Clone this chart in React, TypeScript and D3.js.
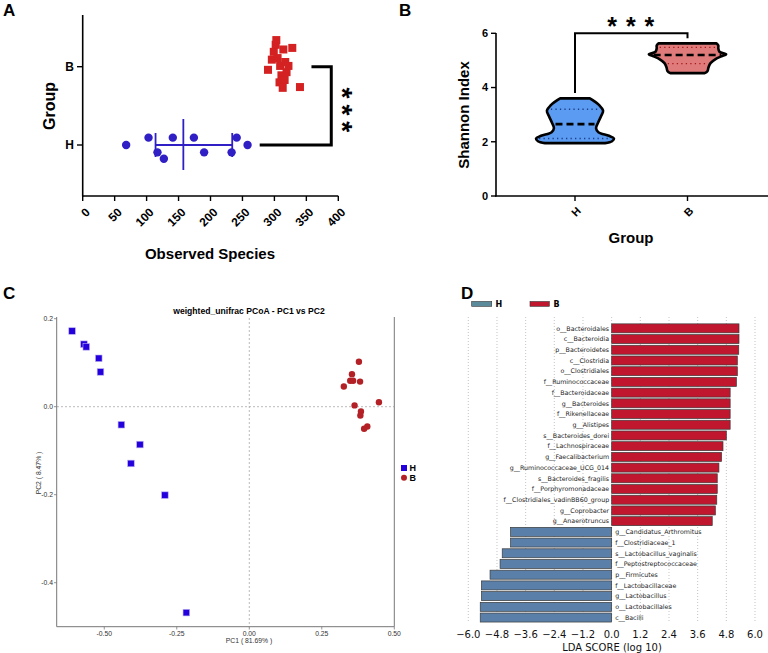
import React from 'react';
import * as d3 from 'd3';

// ---------- Panel A: Observed species ----------
const obsGroups = ['H', 'B'];
const obsH = [68, 103, 117, 127, 141, 174, 190, 233, 241, 258];
const obsHJitter = [0, 0.094, -0.094, -0.175, 0.094, 0.094, -0.094, -0.094, 0.094, 0];
const obsB = [328, 340, 290, 296, 299, 302, 305, 309, 311, 308, 314, 317, 319, 316, 313, 322, 303];
const obsBJitter = [0.24, -0.26, -0.04, 0.09, 0.19, 0.28, 0.11, 0.01, -0.11, -0.2, 0.22, 0.06, -0.07, -0.17, -0.27, 0.01, 0.34];
const obsTicks = [0, 50, 100, 150, 200, 250, 300, 350, 400];
const obsHMean = 157.5;
const obsHSdLow = 114;
const obsHSdHigh = 234;

// ---------- Panel B: Shannon ----------
const shannonGroups = ['H', 'B'];
const violinH: [number, number][] = [
  [1.95, 0.77], [2.02, 0.95], [2.12, 1.0], [2.22, 0.87], [2.35, 0.6], [2.5, 0.54],
  [2.7, 0.59], [2.95, 0.67], [3.15, 0.72], [3.35, 0.62], [3.5, 0.49], [3.6, 0.38],
];
const violinB: [number, number][] = [
  [4.53, 0.44], [4.6, 0.51], [4.75, 0.54], [4.9, 0.59], [5.05, 0.72], [5.15, 0.87],
  [5.23, 0.99], [5.32, 0.82], [5.45, 0.79], [5.55, 0.79], [5.63, 0.74],
];
const shannonMedian = [2.65, 5.2];
const shannonQ1 = [2.12, 4.88];
const shannonQ3 = [3.2, 5.48];
const shannonTicks = [0, 2, 4, 6];

// ---------- Panel C: PCoA ----------
const pcoaH1 = [-0.611, -0.57, -0.562, -0.519, -0.513, -0.441, -0.377, -0.408, -0.291, -0.217];
const pcoaH2 = [0.172, 0.142, 0.136, 0.11, 0.079, -0.041, -0.086, -0.129, -0.201, -0.468];
const pcoaB1 = [0.378, 0.354, 0.348, 0.358, 0.382, 0.326, 0.447, 0.363, 0.385, 0.383, 0.407, 0.396];
const pcoaB2 = [0.102, 0.074, 0.059, 0.059, 0.057, 0.046, 0.01, 0.003, -0.011, -0.02, -0.045, -0.05];
const pcoaXTicks = [-0.5, -0.25, 0, 0.25, 0.5];
const pcoaYTicks = [0.2, 0, -0.2, -0.4];

// ---------- Panel D: LEfSe ----------
const ldaTaxa = [
  'o__Bacteroidales', 'c__Bacteroidia', 'p__Bacteroidetes', 'c__Clostridia', 'o__Clostridiales',
  'f__Ruminococcaceae', 'f__Bacteroidaceae', 'g__Bacteroides', 'f__Rikenellaceae', 'g__Alistipes',
  's__Bacteroides_dorei', 'f__Lachnospiraceae', 'g__Faecalibacterium', 'g__Ruminococcaceae_UCG_014',
  's__Bacteroides_fragilis', 'f__Porphyromonadaceae', 'f__Clostridiales_vadinBB60_group',
  'g__Coprobacter', 'g__Anaerotruncus', 'g__Candidatus_Arthromitus', 'f__Clostridiaceae_1',
  's__Lactobacillus_vaginalis', 'f__Peptostreptococcaceae', 'p__Firmicutes', 'f__Lactobacillaceae',
  'g__Lactobacillus', 'o__Lactobacillales', 'c__Bacilli',
];
const ldaScores = [
  5.33, 5.33, 5.32, 5.26, 5.26, 5.22, 4.96, 4.96, 4.96, 4.96, 4.8, 4.66, 4.6, 4.49,
  4.42, 4.42, 4.4, 4.34, 4.21, -4.23, -4.23, -4.58, -4.67, -5.09, -5.45, -5.45, -5.5, -5.5,
];
const ldaTicks = [-6, -4.8, -3.6, -2.4, -1.2, 0, 1.2, 2.4, 3.6, 4.8, 6];

const ARIAL = '"Liberation Sans", Arial, sans-serif';
const DEJAVU = '"DejaVu Sans", sans-serif';

function PanelA() {
  const x = d3.scaleLinear().domain([0, 400]).range([82.7, 338.3]);
  const y = d3.scalePoint<string>().domain(obsGroups).range([145, 66.7]);
  const step = (y('H') as number) - (y('B') as number);
  const yH = y('H') as number;
  const yB = y('B') as number;
  const blue = '#2f1fc4';
  const red = '#d42121';
  return (
    <g fontFamily={ARIAL} fontWeight="bold">
      <text x={3} y={16} fontSize={17}>A</text>
      <line x1={82.7} x2={82.7} y1={15} y2={196.5} stroke="#000" strokeWidth={1.6} />
      <line x1={82} x2={338.3} y1={196} y2={196} stroke="#000" strokeWidth={1.6} />
      {obsTicks.map((t) => (
        <g key={t}>
          <line x1={x(t)} x2={x(t)} y1={196} y2={201} stroke="#000" strokeWidth={1.4} />
          <text transform={`translate(${x(t) + 5},${210}) rotate(-45)`} textAnchor="end" fontSize={12} dy="0.35em">{t}</text>
        </g>
      ))}
      {obsGroups.map((g) => (
        <g key={g}>
          <line x1={77} x2={82.7} y1={y(g)} y2={y(g)} stroke="#000" strokeWidth={1.4} />
          <text x={74} y={y(g)} dy="0.36em" textAnchor="end" fontSize={12}>{g}</text>
        </g>
      ))}
      <text transform="translate(55,106) rotate(-90)" textAnchor="middle" fontSize={16}>Group</text>
      <text x={210} y={259} textAnchor="middle" fontSize={15}>Observed Species</text>
      {/* H mean & SD */}
      <line x1={x(obsHSdLow)} x2={x(obsHSdHigh)} y1={yH} y2={yH} stroke={blue} strokeWidth={1.8} />
      <line x1={x(obsHSdLow)} x2={x(obsHSdLow)} y1={yH - 12} y2={yH + 12} stroke={blue} strokeWidth={1.8} />
      <line x1={x(obsHSdHigh)} x2={x(obsHSdHigh)} y1={yH - 12} y2={yH + 12} stroke={blue} strokeWidth={1.8} />
      <line x1={x(obsHMean)} x2={x(obsHMean)} y1={yH - 26} y2={yH + 25} stroke={blue} strokeWidth={1.8} />
      {obsH.map((v, i) => (
        <circle key={i} cx={x(v)} cy={yH - obsHJitter[i] * step} r={4.2} fill={blue} />
      ))}
      {obsB.map((v, i) => (
        <rect key={i} x={x(v) - 4} y={yB - obsBJitter[i] * step - 4} width={8} height={8} fill={red} />
      ))}
      {/* significance bracket */}
      <path d={`M${x(277)},${yH} H${x(389)} V${yB} H${x(358)}`} fill="none" stroke="#000" strokeWidth={3} />
      <text transform={`translate(${x(392)},${(yH + yB) / 2 + 7}) rotate(90)`} textAnchor="middle" fontSize={28} letterSpacing={6}>***</text>
    </g>
  );
}

function PanelB() {
  const y = d3.scaleLinear().domain([0, 6]).range([196, 33.3]);
  const x = d3.scalePoint<string>().domain(shannonGroups).range([575, 687.5]);
  const w = d3.scaleLinear().domain([0, 1]).range([0, 39]);
  const profiles = [violinH, violinB];
  const fills = ['#5b9cf2', '#df7b7b'];
  const dotCols = ['#1d3f8a', '#a51c1c'];
  return (
    <g fontFamily={ARIAL} fontWeight="bold">
      <text x={399} y={16} fontSize={17}>B</text>
      <line x1={496} x2={496} y1={33} y2={196.5} stroke="#000" strokeWidth={1.6} />
      <line x1={495} x2={768} y1={196} y2={196} stroke="#000" strokeWidth={1.6} />
      {shannonTicks.map((t) => (
        <g key={t}>
          <line x1={491} x2={496} y1={y(t)} y2={y(t)} stroke="#000" strokeWidth={1.4} />
          <text x={488} y={y(t)} dy="0.36em" textAnchor="end" fontSize={11}>{t}</text>
        </g>
      ))}
      {shannonGroups.map((g) => (
        <g key={g}>
          <line x1={x(g)} x2={x(g)} y1={196} y2={201} stroke="#000" strokeWidth={1.4} />
          <text transform={`translate(${(x(g) as number) + 4},${209}) rotate(-45)`} textAnchor="end" fontSize={11} dy="0.35em">{g}</text>
        </g>
      ))}
      <text transform="translate(469,115) rotate(-90)" textAnchor="middle" fontSize={15}>Shannon Index</text>
      <text x={631} y={243} textAnchor="middle" fontSize={15}>Group</text>
      {shannonGroups.map((g, i) => {
        const cx = x(g) as number;
        const prof = profiles[i];
        const area = d3
          .area<[number, number]>()
          .y((d) => y(d[0]))
          .x0((d) => cx - w(d[1]))
          .x1((d) => cx + w(d[1]))
          .curve(d3.curveCatmullRom);
        const interp = d3.scaleLinear().domain(prof.map((p) => p[0])).range(prof.map((p) => p[1]));
        const lineAt = (v: number) => ({ x1: cx - w(interp(v)) + 3, x2: cx + w(interp(v)) - 3, y: y(v) });
        const med = lineAt(shannonMedian[i]);
        const q1 = lineAt(shannonQ1[i]);
        const q3 = lineAt(shannonQ3[i]);
        return (
          <g key={g}>
            <path d={area(prof) as string} fill={fills[i]} stroke="#000" strokeWidth={2.6} strokeLinejoin="round" />
            <line x1={med.x1} x2={med.x2} y1={med.y} y2={med.y} stroke="#000" strokeWidth={2.6} strokeDasharray="7,4" />
            {[q1, q3].map((q, k) => (
              <line key={k} x1={q.x1} x2={q.x2} y1={q.y} y2={q.y} stroke={dotCols[i]} strokeWidth={1.4} strokeDasharray="1.3,3.2" />
            ))}
          </g>
        );
      })}
      <path d={`M${x('H')},${y(3.8)} V${y(6)} H${x('B')} V${y(5.82)}`} fill="none" stroke="#000" strokeWidth={2} />
      <text x={(575 + 687.5) / 2 + 4} y={35} textAnchor="middle" fontSize={25} letterSpacing={9}>***</text>
    </g>
  );
}

function PanelC() {
  const x = d3.scaleLinear().domain([-0.664, 0.5]).range([56.7, 394.3]);
  const y = d3.scaleLinear().domain([-0.5, 0.2]).range([626.7, 318.7]);
  const axisCol = '#777';
  return (
    <g fontFamily={ARIAL}>
      <text x={3} y={299} fontSize={17} fontWeight="bold">C</text>
      <text x={249} y={314} textAnchor="middle" fontSize={8.6} fontWeight="bold">weighted_unifrac PCoA - PC1 vs PC2</text>
      <line x1={x(0)} x2={x(0)} y1={318} y2={626} stroke="#aaa" strokeWidth={0.8} strokeDasharray="2,2" />
      <line x1={57} x2={394} y1={y(0)} y2={y(0)} stroke="#aaa" strokeWidth={0.8} strokeDasharray="2,2" />
      <line x1={56.7} x2={56.7} y1={317} y2={626.7} stroke={axisCol} strokeWidth={1} />
      <line x1={56.7} x2={394.3} y1={626.7} y2={626.7} stroke={axisCol} strokeWidth={1} />
      <line x1={394.3} x2={394.3} y1={317} y2={626.7} stroke={axisCol} strokeWidth={1} />
      {pcoaXTicks.map((t) => (
        <g key={t}>
          <line x1={x(t)} x2={x(t)} y1={626.7} y2={629.5} stroke={axisCol} strokeWidth={0.8} />
          <text x={x(t)} y={636} textAnchor="middle" fontSize={6.8} fill="#333">{t.toFixed(2)}</text>
        </g>
      ))}
      {pcoaYTicks.map((t) => (
        <g key={t}>
          <line x1={54} x2={56.7} y1={y(t)} y2={y(t)} stroke={axisCol} strokeWidth={0.8} />
          <text x={53} y={y(t)} dy="0.35em" textAnchor="end" fontSize={6.8} fill="#333">{t.toFixed(1)}</text>
        </g>
      ))}
      <text x={249} y={643} textAnchor="middle" fontSize={6.8} fill="#333">PC1 ( 81.69% )</text>
      <text transform="translate(41,473) rotate(-90)" textAnchor="middle" fontSize={6.8} fill="#333">PC2 ( 8.47% )</text>
      {pcoaH1.map((v, i) => (
        <rect key={i} x={x(v) - 3.3} y={y(pcoaH2[i]) - 3.3} width={6.6} height={6.6} fill="#2400dc" stroke="#b9b3f2" strokeWidth={0.6} />
      ))}
      {pcoaB1.map((v, i) => (
        <circle key={i} cx={x(v)} cy={y(pcoaB2[i])} r={3.2} fill="#b32025" />
      ))}
      <rect x={401} y={465} width={6} height={6} fill="#2400dc" />
      <text x={409.5} y={468} dy="0.36em" fontSize={9} fontWeight="bold">H</text>
      <circle cx={404} cy={477.7} r={3} fill="#b32025" />
      <text x={409.5} y={477.7} dy="0.36em" fontSize={9} fontWeight="bold">B</text>
    </g>
  );
}

function PanelD() {
  const x = d3.scaleLinear().domain([-6, 6]).range([468.3, 755]);
  const y = d3.scaleBand<string>().domain(ldaTaxa).range([323, 622.9]).paddingInner(0.16).paddingOuter(0.08);
  const red = '#c0172f';
  const blue = '#5a80a9';
  const bh = y.bandwidth();
  return (
    <g fontFamily={DEJAVU}>
      <text x={461} y={299} fontSize={17} fontWeight="bold" fontFamily={ARIAL}>D</text>
      <rect x={471.7} y={301.5} width={20} height={4.8} fill="#5b8a9a" stroke="#333" strokeWidth={0.6} />
      <text x={495.5} y={304} dy="0.36em" fontSize={8} fontWeight="bold">H</text>
      <rect x={530} y={301.5} width={19.3} height={4.8} fill={red} stroke="#333" strokeWidth={0.6} />
      <text x={553.5} y={304} dy="0.36em" fontSize={8} fontWeight="bold">B</text>
      {ldaTicks.map((t) => (
        <line key={t} x1={x(t)} x2={x(t)} y1={317} y2={623} stroke="#aaa" strokeWidth={0.7} strokeDasharray="1,2" />
      ))}
      {ldaTaxa.map((name, i) => {
        const v = ldaScores[i];
        const yy = y(name) as number;
        const x0 = x(Math.min(0, v));
        const x1 = x(Math.max(0, v));
        return (
          <g key={name}>
            <rect x={x0} y={yy} width={x1 - x0} height={bh} fill={v > 0 ? red : blue} stroke="#3a3a3a" strokeWidth={0.7} />
            <text
              x={v > 0 ? x(0) - 2.5 : x(0) + 3.5}
              y={yy + bh / 2}
              dy="0.36em"
              textAnchor={v > 0 ? 'end' : 'start'}
              fontSize={6.3}
              fill="#222"
            >
              {name}
            </text>
          </g>
        );
      })}
      {ldaTicks.map((t) => (
        <text key={t} x={x(t)} y={638} textAnchor="middle" fontSize={10} fill="#111">
          {t.toFixed(1).replace('-', '\u2212')}
        </text>
      ))}
      <text x={612} y={651} textAnchor="middle" fontSize={10} fill="#111">LDA SCORE (log 10)</text>
    </g>
  );
}

export default function App() {
  return (
    <svg width={768} height={653} style={{ position: 'absolute', left: 0, top: 0, background: '#fff' }}>
      <rect width={768} height={653} fill="#fff" />
      <PanelA />
      <PanelB />
      <PanelC />
      <PanelD />
    </svg>
  );
}
